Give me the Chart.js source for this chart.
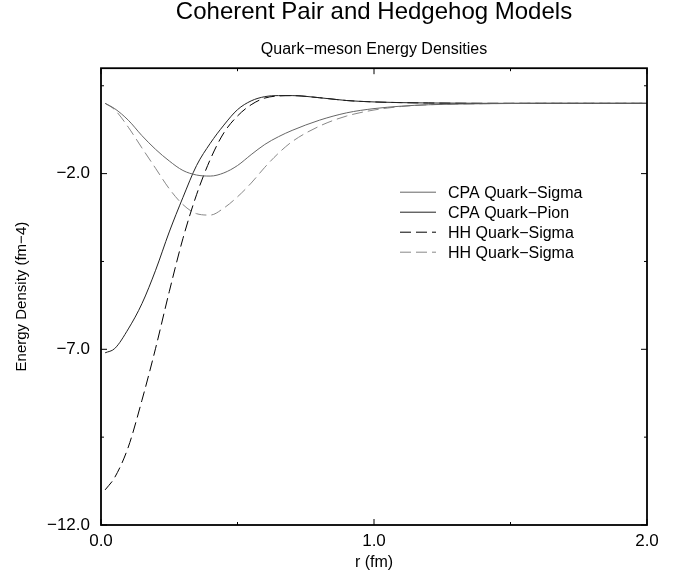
<!DOCTYPE html>
<html>
<head>
<meta charset="utf-8">
<title>Coherent Pair and Hedgehog Models</title>
<script src="https://cdn.jsdelivr.net/npm/chart.js@4.4.0/dist/chart.umd.min.js"></script>
<style>
  html, body { margin: 0; padding: 0; background: #fff; }
  #wrap { width: 681px; height: 574px; }
</style>
</head>
<body>
<div id="wrap"><canvas id="myChart"></canvas></div>
<script>
const radius   = [0.015, 0.05, 0.10, 0.15, 0.20, 0.25, 0.30, 0.35, 0.40, 0.45, 0.50, 0.55,
                  0.60, 0.65, 0.70, 0.80, 0.90, 1.00, 1.10, 1.20, 1.40, 1.60, 1.80, 2.00];
// energy densities (fm-4)
const cpaSigma = [0.0, -0.15, -0.48, -0.92, -1.31, -1.64, -1.91, -2.04, -2.07, -1.98, -1.77, -1.46,
                  -1.17, -0.95, -0.77, -0.48, -0.27, -0.15, -0.08, -0.04, -0.01, 0, 0, 0];
const cpaPion  = [-7.10, -6.98, -6.42, -5.70, -4.75, -3.66, -2.68, -1.77, -1.14, -0.62, -0.18, 0.07,
                  0.19, 0.22, 0.22, 0.16, 0.08, 0.04, 0.02, 0.01, 0, 0, 0, 0];
const hhSigma  = [-11.0, -10.65, -9.78, -8.45, -6.97, -5.36, -3.85, -2.60, -1.60, -0.84, -0.36, -0.04,
                  0.15, 0.21, 0.22, 0.16, 0.08, 0.04, 0.02, 0.01, 0, 0, 0, 0];
const hhSigma2 = [0.0, -0.18, -0.68, -1.27, -1.85, -2.43, -2.88, -3.14, -3.18, -2.98, -2.66, -2.27,
                  -1.82, -1.42, -1.09, -0.65, -0.36, -0.19, -0.09, -0.04, -0.01, 0, 0, 0];

const xTicks = [0.0, 1.0, 2.0];
const xMinorTicks = [0.5, 1.5];
const yTicks = [-12.0, -7.0, -2.0];
const yMinorTicks = [-9.5, -4.5, 0.5];

const FONT = '"Liberation Sans", Arial, Helvetica, sans-serif';
Chart.defaults.font.family = FONT;
Chart.defaults.color = '#000';

function pts(vals) {
    return radius.map((r, i) => ({ x: r, y: vals[i] }));
}
function fmt(v) {
    return (v < 0 ? '\u2212' : '') + Math.abs(v).toFixed(1);
}

// box round the plot with inward ticks on all four sides
const frameTicks = {
    id: 'frameTicks',
    afterDraw(chart) {
        const { ctx, chartArea: a, scales: { x, y } } = chart;
        ctx.save();
        ctx.strokeStyle = '#000';
        ctx.lineWidth = 1;
        ctx.beginPath();
        const xs = (vals, len) => vals.forEach(v => {
            const px = x.getPixelForValue(v);
            ctx.moveTo(px, a.bottom); ctx.lineTo(px, a.bottom - len);
            ctx.moveTo(px, a.top); ctx.lineTo(px, a.top + len);
        });
        const ys = (vals, len) => vals.forEach(v => {
            const py = y.getPixelForValue(v);
            ctx.moveTo(a.left, py); ctx.lineTo(a.left + len, py);
            ctx.moveTo(a.right, py); ctx.lineTo(a.right - len, py);
        });
        xs(xTicks, 6); xs(xMinorTicks, 3);
        ys(yTicks, 6); ys(yMinorTicks, 3);
        ctx.stroke();
        ctx.lineWidth = 1.8;
        ctx.strokeRect(a.left, a.top, a.right - a.left, a.bottom - a.top);
        ctx.restore();
    }
};

// legend inside the plot area
const innerLegend = {
    id: 'innerLegend',
    afterDraw(chart) {
        const { ctx, chartArea: a } = chart;
        const x0 = a.left + 299, y0 = a.top + 124;
        ctx.save();
        ctx.font = '16px ' + FONT;
        ctx.textBaseline = 'middle';
        ctx.fillStyle = '#000';
        chart.data.datasets.forEach((ds, i) => {
            const yy = y0 + i * 20;
            ctx.strokeStyle = ds.borderColor;
            ctx.lineWidth = ds.borderWidth;
            ctx.setLineDash(ds.borderDash || []);
            ctx.beginPath();
            ctx.moveTo(x0, yy); ctx.lineTo(x0 + 36, yy);
            ctx.stroke();
            ctx.setLineDash([]);
            ctx.fillText(ds.label, x0 + 48, yy + 1);
        });
        ctx.restore();
    }
};

const ctx = document.getElementById('myChart').getContext('2d');
const myChart = new Chart(ctx, {
    type: 'line',
    data: {
        datasets: [
            { label: 'CPA Quark\u2212Sigma', data: pts(cpaSigma), borderColor: '#666', borderWidth: 1 },
            { label: 'CPA Quark\u2212Pion',  data: pts(cpaPion),  borderColor: '#222', borderWidth: 1 },
            { label: 'HH Quark\u2212Sigma',  data: pts(hhSigma),  borderColor: '#000', borderWidth: 1, borderDash: [11, 5] },
            { label: 'HH Quark\u2212Sigma',  data: pts(hhSigma2), borderColor: '#888', borderWidth: 1, borderDash: [11, 5] }
        ]
    },
    plugins: [frameTicks, innerLegend],
    options: {
        responsive: true,
        maintainAspectRatio: false,
        animation: false,
        layout: { padding: { top: 0, right: 34, bottom: 0, left: 0 } },
        elements: {
            point: { radius: 0 },
            line: { cubicInterpolationMode: 'monotone', fill: false }
        },
        plugins: {
            legend: { display: false },
            tooltip: { enabled: false },
            title: {
                display: true,
                fullSize: false,
                text: 'Coherent Pair and Hedgehog Models',
                color: '#000',
                font: { size: 24, weight: 'normal', lineHeight: 1.0 },
                padding: { top: 0, bottom: 10 }
            },
            subtitle: {
                display: true,
                fullSize: false,
                text: 'Quark\u2212meson Energy Densities',
                color: '#000',
                font: { size: 16, lineHeight: 1.2 },
                padding: { top: 6, bottom: 9 }
            }
        },
        scales: {
            x: {
                type: 'linear',
                min: 0, max: 2,
                afterFit: s => { s.height = 49; },
                afterBuildTicks: s => { s.ticks = xTicks.map(v => ({ value: v })); },
                grid: { display: false, drawTicks: false },
                border: { display: false },
                ticks: { padding: 6, maxRotation: 0, color: '#000', font: { size: 17 }, callback: v => fmt(v) },
                title: { display: true, text: 'r (fm)', color: '#000', font: { size: 16 }, padding: { top: 0, bottom: 2 } }
            },
            y: {
                type: 'linear',
                min: -12, max: 1,
                afterFit: s => { s.width = 101; },
                afterBuildTicks: s => { s.ticks = yTicks.map(v => ({ value: v })); },
                grid: { display: false, drawTicks: false },
                border: { display: false },
                ticks: { padding: 11, color: '#000', font: { size: 17 }, callback: v => fmt(v) },
                title: { display: true, text: 'Energy Density (fm\u22124)', color: '#000', font: { size: 15 }, padding: { top: 13, bottom: 0 } }
            }
        }
    }
});
</script>
</body>
</html>
